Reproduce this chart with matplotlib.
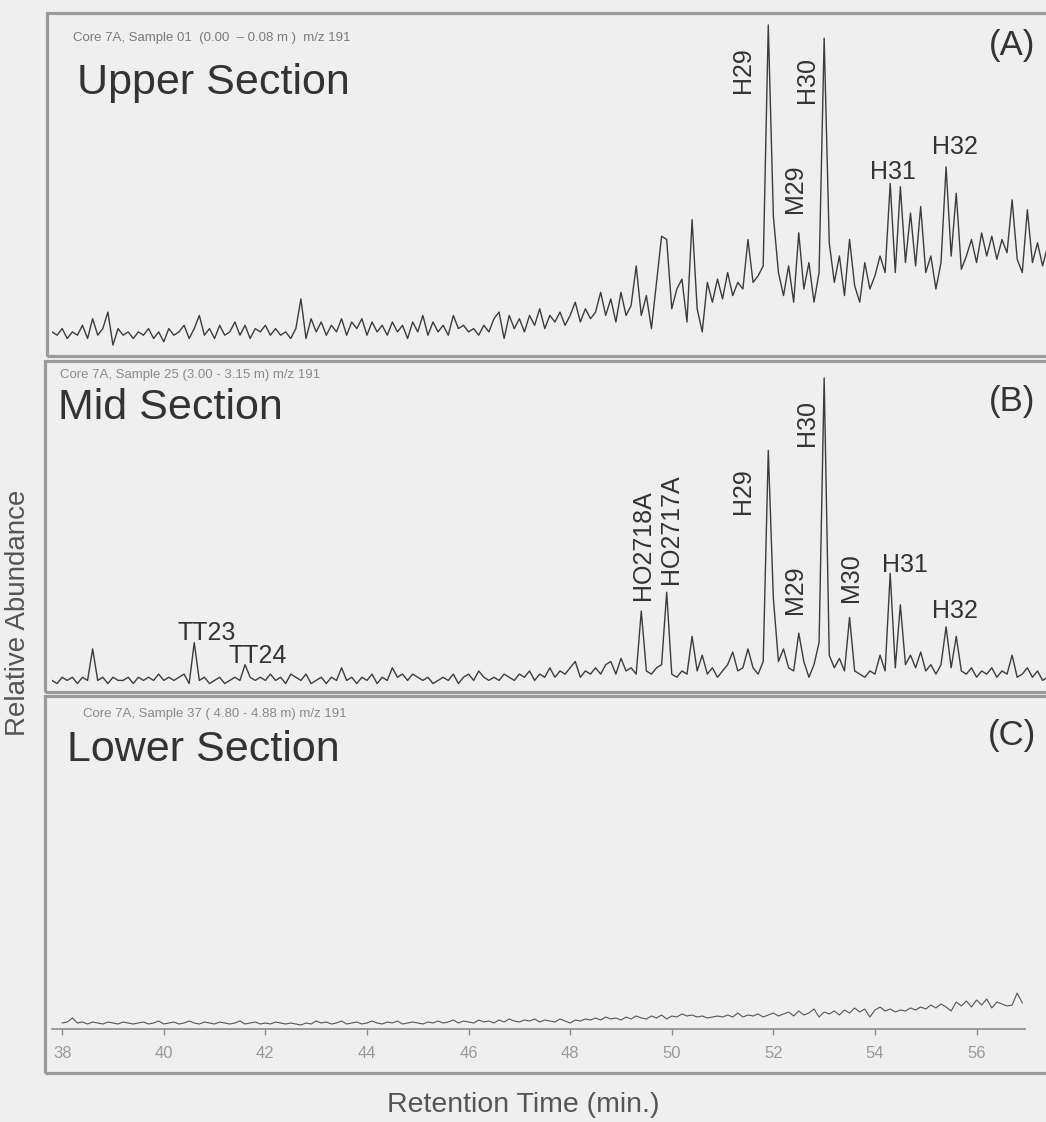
import numpy as np
import matplotlib
matplotlib.use("Agg")
import matplotlib.pyplot as plt
from matplotlib.patches import Rectangle

plt.rcParams['font.family'] = ['Liberation Sans', 'DejaVu Sans']

# ---------------- data (retention time grid, 0.1 min steps) ----------------
t_start_ab = 37.8
t_step = 0.1

# Panel A: Upper Section (relative abundance, % of H29)
upper_abund = [
    7, 6, 8, 5, 7, 6, 9, 5, 11, 6, 8, 13, 3, 8, 6, 7, 5, 7, 6, 8,
    5, 7, 4, 8, 6, 7, 9, 5, 8, 12, 6, 8, 5, 9, 6, 7, 10, 6, 9, 5,
    8, 7, 9, 6, 8, 6, 7, 5, 8, 17, 5, 11, 7, 10, 6, 9, 7, 11, 6, 10,
    8, 11, 6, 10, 7, 9, 6, 10, 7, 9, 5, 10, 7, 12, 6, 10, 7, 9, 6, 12,
    8, 9, 7, 8, 6, 9, 7, 11, 13, 5, 12, 8, 11, 7, 12, 9, 14, 8, 12, 10,
    13, 9, 12, 16, 10, 14, 11, 13, 19, 12, 17, 10, 19, 12, 15, 27, 12, 18, 8, 22,
    36, 35, 14, 20, 23, 10, 41, 14, 7, 22, 16, 23, 17, 25, 18, 22, 20, 35, 22, 24,
    27, 100, 42, 25, 18, 27, 16, 37, 20, 28, 16, 25, 96, 34, 22, 30, 18, 35, 21, 16,
    28, 20, 24, 30, 25, 52, 25, 51, 28, 43, 27, 45, 25, 30, 20, 28, 57, 30, 49, 26,
    30, 35, 28, 37, 30, 36, 29, 35, 31, 47, 29, 25, 44, 28, 34, 27, 33,
]

# Panel B: Mid Section (relative abundance, % of H30)
mid_abund = [
    4, 3, 5, 4, 5, 3, 5, 4, 14, 4, 5, 3, 5, 4, 4, 5, 3, 5, 4, 5,
    4, 6, 4, 5, 4, 5, 6, 3, 16, 4, 5, 3, 4, 5, 3, 4, 5, 4, 9, 5,
    4, 5, 4, 6, 4, 5, 3, 6, 5, 4, 6, 3, 4, 5, 3, 5, 4, 8, 4, 5,
    3, 5, 4, 6, 3, 5, 4, 8, 5, 6, 4, 6, 5, 4, 5, 3, 4, 5, 4, 6,
    3, 5, 6, 4, 7, 5, 4, 5, 4, 6, 5, 4, 6, 5, 7, 4, 6, 5, 8, 5,
    7, 6, 8, 10, 5, 7, 6, 8, 6, 9, 10, 6, 11, 7, 8, 6, 26, 7, 6, 8,
    9, 32, 6, 5, 7, 6, 18, 7, 12, 6, 8, 5, 7, 9, 13, 7, 8, 14, 8, 6,
    10, 77, 30, 10, 14, 8, 7, 19, 10, 5, 9, 16, 100, 12, 8, 11, 7, 24, 7, 6,
    5, 7, 6, 12, 7, 38, 8, 28, 9, 12, 8, 13, 7, 9, 6, 9, 21, 8, 18, 7,
    6, 8, 5, 7, 6, 8, 5, 7, 6, 12, 5, 6, 8, 5, 7, 4, 5,
]

# Panel C: Lower Section (abundance, same grid starting at 38.0 min)
t_start_c = 38.0
lower_abund = [
    6, 7, 11, 6, 7, 5, 7, 6, 5, 7, 6, 5, 7, 6, 5, 6, 7, 5, 6, 8,
    5, 6, 7, 5, 6, 8, 6, 5, 7, 6, 5, 7, 6, 5, 6, 8, 5, 6, 7, 5,
    6, 5, 7, 6, 5, 6, 5, 4, 6, 5, 8, 6, 7, 5, 6, 8, 5, 6, 7, 5,
    6, 8, 6, 5, 7, 6, 8, 5, 6, 7, 6, 5, 7, 6, 8, 6, 7, 9, 6, 8,
    7, 6, 9, 7, 8, 6, 9, 7, 10, 8, 7, 9, 8, 10, 7, 9, 8, 7, 10, 8,
    6, 9, 8, 10, 9, 11, 9, 12, 10, 11, 9, 12, 10, 13, 11, 10, 13, 11, 14, 10,
    13, 12, 15, 13, 14, 12, 13, 11, 12, 13, 12, 14, 12, 16, 12, 14, 13, 15, 12, 14,
    16, 13, 15, 17, 13, 18, 14, 16, 20, 12, 17, 15, 18, 14, 19, 16, 21, 17, 20, 12,
    19, 22, 18, 20, 17, 19, 18, 21, 19, 22, 20, 24, 21, 25, 22, 18, 27, 23, 28, 22,
    29, 24, 30, 21, 27, 25, 23, 24, 36, 26,
]

x_ticks = [38, 40, 42, 44, 46, 48, 50, 52, 54, 56]

upper_labels = [("H29", 743, 70, 90), ("H30", 807, 80, 90), ("M29", 795, 189, 90),
                ("H31", 893, 172, 0), ("H32", 955, 147, 0)]
mid_labels = [("HO2718A", 643, 545, 90), ("HO2717A", 671, 529, 90),
              ("H29", 743, 491, 90), ("H30", 807, 423, 90), ("M29", 795, 590, 90),
              ("M30", 851, 578, 90), ("H31", 905, 565, 0), ("H32", 955, 611, 0),
              ("TT23", 207, 633, 0), ("TT24", 258, 656, 0)]

# ---------------- figure ----------------
W, H = 1046, 1122
BG = '#efefef'
fig = plt.figure(figsize=(W / 100, H / 100), dpi=100, facecolor=BG)


def fx(px):
    return px / W


def fy(py):
    return 1 - py / H


PX_PER_MIN = 50.8
LEFT_PX = 52
TRACE = '#3c3c3c'
TXT = '#333333'

# panel frames
frames = [(47, 13, 356), (45, 361, 692), (45, 696, 1073)]
for x0, y0, y1 in frames:
    fig.add_artist(Rectangle((fx(x0), fy(y1)), fx(1080 - x0), (y1 - y0) / H,
                             transform=fig.transFigure, facecolor='none',
                             edgecolor='#9a9a9a', lw=2.3))


def trace_axes(top_px, bot_px, t0, t1, ymax, width_px):
    ax = fig.add_axes([fx(LEFT_PX), fy(bot_px), width_px / W, (bot_px - top_px) / H])
    ax.set_xlim(t0, t1)
    ax.set_ylim(0, ymax)
    ax.patch.set_alpha(0)
    return ax


# Panel A
tA = t_start_ab + t_step * np.arange(len(upper_abund))
axA = trace_axes(13, 355, 37.8, 57.8, 342 / 3.3, 20 * PX_PER_MIN)
axA.plot(tA, upper_abund, color=TRACE, lw=1.0)
axA.axis('off')

# Panel B
tB = t_start_ab + t_step * np.arange(len(mid_abund))
axB = trace_axes(362, 693, 37.8, 57.8, 331 / 3.15, 20 * PX_PER_MIN)
axB.plot(tB, mid_abund, color=TRACE, lw=1.0)
axB.axis('off')

# Panel C
tC = t_start_c + t_step * np.arange(len(lower_abund))
axC = trace_axes(700, 1029, 37.8, 56.96, 329, (56.96 - 37.8) * PX_PER_MIN)
axC.plot(tC, lower_abund, color='#555555', lw=0.8)
for s in ['top', 'right', 'left']:
    axC.spines[s].set_visible(False)
axC.spines['bottom'].set_color('#8c8c8c')
axC.spines['bottom'].set_linewidth(1.2)
axC.set_yticks([])
axC.set_xticks(x_ticks)
axC.set_xticklabels([str(v) for v in x_ticks])
axC.tick_params(axis='x', colors='#8c8c8c', labelcolor='#9a9a9a', length=4,
                width=1, pad=8, labelsize=12)

# headers and section titles
fig.text(fx(73), fy(38), "Core 7A, Sample 01  (0.00  \u2013 0.08 m )  m/z 191",
         fontsize=9.5, color='#7a7a7a', va='center', ha='left')
fig.text(fx(77), fy(83), "Upper Section", fontsize=31, color=TXT, va='center', ha='left')
fig.text(fx(1012), fy(46), "(A)", fontsize=25, color=TXT, va='center', ha='center')

fig.text(fx(60), fy(375), "Core 7A, Sample 25 (3.00 - 3.15 m) m/z 191",
         fontsize=9.5, color='#8a8a8a', va='center', ha='left')
fig.text(fx(58), fy(408), "Mid Section", fontsize=31, color=TXT, va='center', ha='left')
fig.text(fx(1012), fy(401), "(B)", fontsize=25, color=TXT, va='center', ha='center')

fig.text(fx(83), fy(714), "Core 7A, Sample 37 ( 4.80 - 4.88 m) m/z 191",
         fontsize=9.5, color='#8a8a8a', va='center', ha='left')
fig.text(fx(67), fy(750), "Lower Section", fontsize=31, color=TXT, va='center', ha='left')
fig.text(fx(1012), fy(735), "(C)", fontsize=25, color=TXT, va='center', ha='center')

for lab, x, y, rot in upper_labels + mid_labels:
    fig.text(fx(x), fy(y), lab, fontsize=18, color=TXT, rotation=rot,
             va='center', ha='center')

fig.text(fx(18), fy(613), "Relative Abundance", fontsize=20, color='#555555',
         rotation=90, va='center', ha='center')
fig.text(fx(523), fy(1105), "Retention Time (min.)", fontsize=20.5, color='#555555',
         va='center', ha='center')

fig.savefig("out.png", dpi=100, facecolor=BG)
